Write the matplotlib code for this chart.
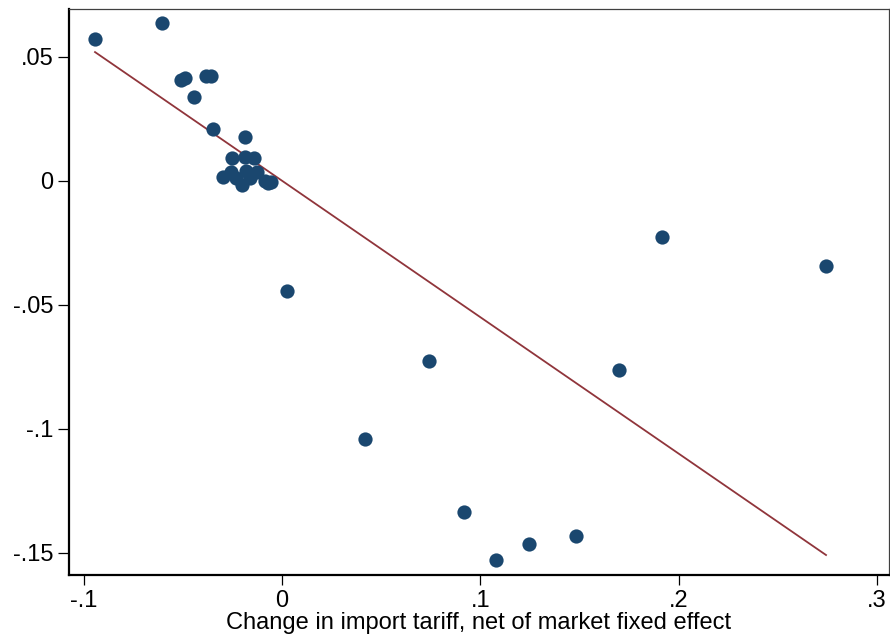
import numpy as np
import matplotlib
matplotlib.use("Agg")
from matplotlib import pyplot as plt

# tariff change (x) vs. outcome residual (y), both net of market fixed effect
tariff = [-0.0943, -0.0605, -0.0509, -0.0489, -0.0383, -0.0358, -0.0444, -0.0348,
          -0.0187, -0.0251, -0.0185, -0.0141, -0.0296, -0.0257, -0.0232, -0.0200,
          -0.0183, -0.0161, -0.0125, -0.0086, -0.0057, -0.0069,
          0.0025, 0.0419, 0.0741, 0.0918, 0.1080, 0.1246, 0.1483, 0.1700,
          0.1917, 0.2744]
outcome = [0.0573, 0.0637, 0.0407, 0.0415, 0.0423, 0.0423, 0.0339, 0.0210,
           0.0177, 0.0092, 0.0098, 0.0094, 0.0017, 0.0035, 0.0011, -0.0016,
           0.0040, 0.0011, 0.0035, 0.0000, -0.0003, -0.0009,
           -0.0444, -0.1040, -0.0726, -0.1335, -0.1528, -0.1464, -0.1431, -0.0762,
           -0.0226, -0.0343]

# fitted line
fit_intercept = 0.0001
fit_slope = -0.55

x_ticks = [-0.1, 0, 0.1, 0.2, 0.3]
x_labels = ["-.1", "0", ".1", ".2", ".3"]
y_ticks = [-0.15, -0.1, -0.05, 0, 0.05]
y_labels = ["-.15", "-.1", "-.05", "0", ".05"]

plt.rcParams["font.family"] = ["Liberation Sans", "DejaVu Sans"]

fig = plt.figure(figsize=(8.9, 6.4), dpi=100)
ax = fig.add_axes([0.0775, 0.1016, 0.9214, 0.8844])

x = np.array(tariff)
y = np.array(outcome)
ax.scatter(x, y, s=105, color="#1a476f", zorder=3, linewidths=0)

xs = np.array([x.min(), x.max()])
ax.plot(xs, fit_intercept + fit_slope * xs, color="#90353b", lw=1.3, zorder=2)

ax.set_xlim(-0.10744, 0.30618)
ax.set_ylim(-0.15887, 0.06935)

ax.set_xticks(x_ticks)
ax.set_xticklabels(x_labels)
ax.set_yticks(y_ticks)
ax.set_yticklabels(y_labels)
ax.tick_params(axis="both", labelsize=17, colors="black", width=0.9)
ax.tick_params(axis="x", length=7.5, pad=3)
ax.tick_params(axis="y", length=8, pad=3)

for side in ["left", "bottom"]:
    ax.spines[side].set_linewidth(1.6)
    ax.spines[side].set_color("black")
for side in ["top", "right"]:
    ax.spines[side].set_linewidth(0.9)
    ax.spines[side].set_color("#404040")

ax.set_xlabel("Change in import tariff, net of market fixed effect", fontsize=17, labelpad=0)

fig.savefig("out.png", dpi=100)
